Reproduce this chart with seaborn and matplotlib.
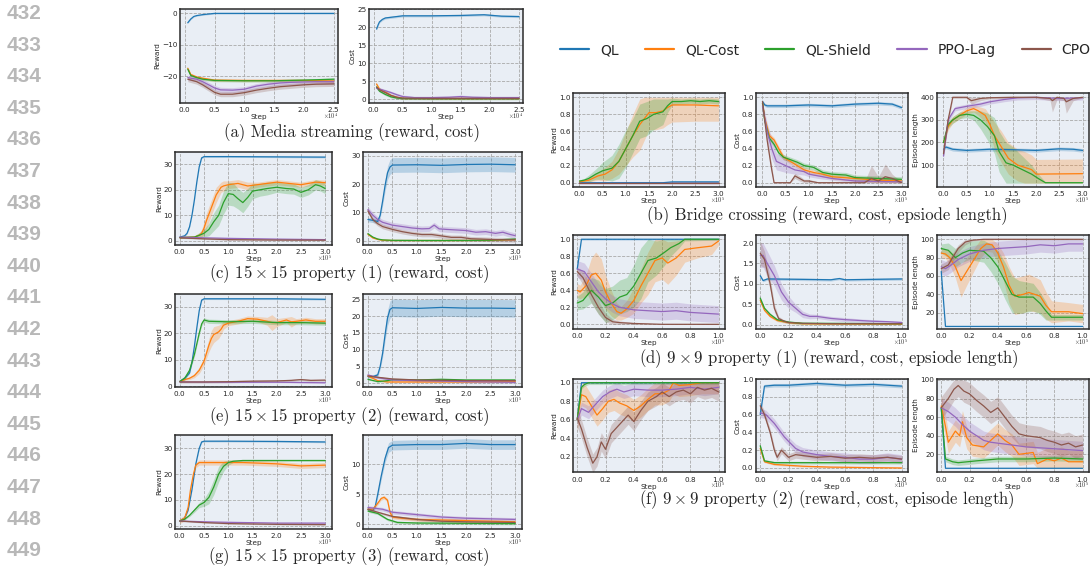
import matplotlib
matplotlib.use("Agg")
import matplotlib.pyplot as plt
from matplotlib.lines import Line2D
from matplotlib.ticker import MultipleLocator
import seaborn as sns
import numpy as np
import pandas as pd

ALGOS = ["QL", "QL-Cost", "QL-Shield", "PPO-Lag", "CPO"]
COLORS = ["#1f77b4", "#ff7f0e", "#2ca02c", "#9467bd", "#8c564b"]

# each series: (steps, mean, band half-width); steps in units of 1e4 for (a), 1e5 otherwise
a_reward = {
    "QL": ([0.05, 0.1, 0.15, 0.2, 0.3, 0.4, 0.5, 1.0, 1.5, 2.0, 2.5],
           [-3.0, -1.8, -1.0, -0.7, -0.4, -0.2, 0.0, 0.0, 0.0, 0.0, 0.0], 0.2),
    "QL-Cost": ([0.05, 0.1, 0.2, 0.3, 0.4, 0.5, 1.0, 1.5, 2.0, 2.5],
                [-17.5, -19.5, -20.3, -20.7, -21.0, -21.3, -21.4, -21.4, -21.4, -21.6], 0.4),
    "QL-Shield": ([0.05, 0.1, 0.2, 0.3, 0.4, 0.5, 1.0, 1.5, 2.0, 2.5],
                  [-17.8, -19.8, -20.5, -21.0, -21.2, -21.4, -21.5, -21.5, -21.3, -21.0], 0.4),
    "PPO-Lag": ([0.05, 0.2, 0.3, 0.4, 0.5, 0.6, 0.8, 1.0, 1.2, 1.4, 1.6, 1.8, 2.0, 2.2, 2.5],
                [-20.5, -21.0, -21.8, -22.8, -23.8, -24.4, -24.5, -24.2, -23.2, -22.6, -22.2, -22.0, -21.9, -21.8, -21.8], 0.8),
    "CPO": ([0.05, 0.2, 0.3, 0.4, 0.5, 0.6, 0.8, 1.0, 1.2, 1.4, 1.6, 1.8, 2.0, 2.2, 2.5],
            [-21.0, -21.8, -22.8, -24.0, -25.2, -25.8, -25.8, -25.3, -24.5, -23.9, -23.4, -23.1, -22.8, -22.6, -22.5], 0.8),
}
a_cost = {
    "QL": ([0.05, 0.08, 0.1, 0.15, 0.2, 0.3, 0.5, 1.0, 1.5, 1.9, 2.2, 2.5],
           [19.5, 20.8, 21.5, 22.2, 22.6, 22.8, 23.2, 23.2, 23.3, 23.5, 23.1, 23.0], 0.3),
    "QL-Cost": ([0.05, 0.1, 0.2, 0.3, 0.4, 0.5, 1.0, 2.5], [4.2, 2.8, 2.0, 1.0, 0.5, 0.2, 0.15, 0.15], 0.3),
    "QL-Shield": ([0.05, 0.1, 0.2, 0.3, 0.4, 0.5, 1.0, 2.5], [3.4, 2.2, 1.3, 0.6, 0.3, 0.15, 0.1, 0.1], 0.3),
    "PPO-Lag": ([0.05, 0.1, 0.2, 0.3, 0.4, 0.5, 0.7, 1.0, 1.3, 1.5, 1.7, 2.0, 2.5],
                [3.0, 2.8, 2.3, 1.8, 1.2, 0.7, 0.4, 0.4, 0.5, 0.7, 0.5, 0.4, 0.4], 0.4),
    "CPO": ([0.05, 0.1, 0.2, 0.3, 0.4, 0.5, 1.0, 2.5], [3.3, 2.6, 1.8, 1.0, 0.5, 0.25, 0.2, 0.2], 0.3),
}

c_reward = {
    "QL": ([0.0, 0.1, 0.15, 0.2, 0.25, 0.3, 0.35, 0.4, 0.45, 0.5, 1.0, 2.0, 3.0],
           [1.5, 2.0, 3.0, 5.5, 10.0, 16.0, 23.0, 29.0, 32.5, 33.0, 33.0, 32.9, 32.8], 0.3),
    "QL-Cost": ([0.0, 0.3, 0.4, 0.45, 0.5, 0.55, 0.6, 0.65, 0.7, 0.75, 0.8, 0.85, 0.9, 1.0, 1.2, 1.4, 1.6, 1.8, 2.0, 2.2, 2.5, 2.8, 3.0],
                [1.3, 1.5, 2.2, 3.0, 5.0, 8.0, 10.5, 13.0, 15.5, 18.0, 19.5, 21.0, 21.5, 22.0, 22.5, 21.5, 22.0, 22.5, 23.0, 22.6, 22.0, 23.0, 22.8],
                [0.3, 0.5, 1, 1.5, 2.5, 3, 3, 3, 3, 3, 2.5, 2, 2, 1.5, 1.5, 1.5, 1, 1, 1, 1, 1, 1, 1]),
    "QL-Shield": ([0.0, 0.3, 0.4, 0.5, 0.6, 0.65, 0.7, 0.8, 0.9, 1.0, 1.1, 1.2, 1.3, 1.4, 1.5, 1.65, 1.8, 2.0, 2.2, 2.35, 2.5, 2.65, 2.8, 2.9, 3.0],
                  [1.3, 1.5, 2.2, 3.0, 4.5, 6.0, 7.5, 10.0, 15.0, 18.5, 18.2, 16.5, 15.0, 17.0, 19.5, 20.0, 20.5, 21.0, 20.5, 20.3, 19.0, 20.0, 22.0, 21.5, 20.5],
                  [0.3, 0.5, 1, 1.5, 2.5, 3, 3.5, 4, 4.5, 4.5, 4.5, 4, 4, 3.5, 3, 2.5, 2.5, 2, 2, 2, 2, 2, 2, 2, 2]),
    "PPO-Lag": ([0.0, 0.5, 1.0, 2.0, 3.0], [1.5, 1.2, 1.0, 0.7, 0.5], 0.3),
    "CPO": ([0.0, 0.5, 1.0, 2.0, 3.0], [1.2, 0.8, 0.5, 0.35, 0.3], 0.2),
}
c_cost = {
    "QL": ([0.0, 0.1, 0.2, 0.25, 0.3, 0.35, 0.4, 0.45, 0.5, 1.0, 1.5, 2.0, 2.5, 3.0],
           [7.5, 7.2, 6.8, 9.0, 14.0, 19.5, 24.0, 26.0, 26.7, 26.8, 26.6, 26.9, 27.0, 26.8],
           [0.8, 0.8, 0.8, 1.0, 1.5, 2.0, 2.4, 2.6, 2.6, 2.6, 2.6, 2.6, 2.6, 2.6]),
    "QL-Cost": ([0.0, 0.1, 0.2, 0.3, 0.5, 1.0, 2.0, 2.5, 3.0], [2.3, 1.0, 0.5, 0.2, 0.1, 0.1, 0.1, 0.2, 0.4], 0.2),
    "QL-Shield": ([0.0, 0.1, 0.2, 0.3, 0.5, 1.0, 2.0, 2.5, 3.0], [2.5, 1.3, 0.6, 0.3, 0.15, 0.1, 0.1, 0.2, 0.6], 0.2),
    "PPO-Lag": ([0.0, 0.1, 0.2, 0.3, 0.4, 0.5, 0.7, 0.9, 1.1, 1.25, 1.35, 1.45, 1.6, 1.8, 2.0, 2.2, 2.4, 2.6, 2.75, 2.9, 3.0],
                [11.0, 9.0, 7.5, 6.5, 6.0, 5.5, 5.0, 4.5, 4.2, 4.3, 5.5, 4.2, 4.0, 3.8, 3.6, 3.0, 3.2, 2.6, 3.0, 2.2, 1.8], 1.0),
    "CPO": ([0.0, 0.1, 0.2, 0.3, 0.5, 0.7, 0.9, 1.1, 1.3, 1.5, 1.7, 1.9, 2.1, 2.3, 2.6, 3.0],
            [10.5, 7.5, 6.0, 5.0, 4.0, 3.2, 2.6, 2.2, 2.2, 1.7, 1.2, 1.2, 0.7, 0.6, 0.4, 0.3], 0.8),
}

e_reward = {
    "QL": ([0.0, 0.1, 0.2, 0.25, 0.3, 0.35, 0.4, 0.45, 0.5, 1.0, 2.0, 3.0],
           [1.8, 3.0, 5.0, 9.0, 15.0, 22.0, 28.5, 32.5, 33.0, 33.0, 33.0, 32.8], 0.3),
    "QL-Cost": ([0.0, 0.1, 0.2, 0.3, 0.4, 0.5, 0.55, 0.6, 0.65, 0.7, 0.8, 0.85, 0.9, 1.0, 1.2, 1.4, 1.6, 1.8, 1.9, 2.0, 2.2, 2.3, 2.4, 2.6, 2.8, 3.0],
                [1.8, 2.5, 3.0, 4.0, 6.0, 9.5, 12.5, 15.5, 18.0, 19.5, 20.5, 21.5, 23.0, 23.8, 24.5, 25.5, 25.3, 24.5, 24.0, 24.0, 25.0, 24.3, 24.5, 25.0, 24.5, 24.5],
                [0.3, 0.3, 0.5, 0.8, 1.2, 1.5, 2, 2.5, 3, 3, 2.5, 2, 1.5, 1, 1, 1, 1, 1.5, 3, 1.5, 1, 2, 1, 1, 1, 1]),
    "QL-Shield": ([0.0, 0.1, 0.2, 0.3, 0.4, 0.45, 0.5, 0.6, 1.0, 1.5, 2.0, 2.5, 3.0],
                  [1.8, 3.0, 6.0, 12.0, 20.0, 23.5, 25.0, 24.5, 24.3, 24.5, 24.0, 24.0, 23.8], 0.8),
    "PPO-Lag": ([0.0, 1.0, 2.0, 3.0], [1.6, 1.5, 1.5, 1.3], 0.2),
    "CPO": ([0.0, 0.5, 1.0, 1.5, 2.0, 2.3, 2.5, 2.7, 3.0], [1.6, 1.6, 1.7, 1.9, 2.0, 2.2, 2.5, 2.2, 2.3], 0.4),
}
e_cost = {
    "QL": ([0.0, 0.1, 0.2, 0.25, 0.3, 0.35, 0.4, 0.45, 0.5, 1.0, 1.5, 2.0, 2.5, 3.0],
           [2.0, 2.0, 2.5, 5.0, 9.0, 14.5, 19.5, 22.0, 22.5, 22.3, 22.6, 22.4, 22.4, 22.3],
           [0.5, 0.5, 0.6, 0.8, 1.2, 1.8, 2.3, 2.6, 2.6, 2.6, 2.6, 2.6, 2.6, 2.6]),
    "QL-Cost": ([0.0, 0.1, 0.2, 0.4, 1.0, 2.0, 3.0], [2.2, 1.5, 0.8, 0.4, 0.4, 0.4, 0.5], 0.2),
    "QL-Shield": ([0.0, 0.2, 0.4, 0.5, 1.0, 1.5, 2.0, 3.0], [1.2, 0.5, 0.8, 1.1, 1.0, 1.2, 1.0, 1.0], 0.2),
    "PPO-Lag": ([0.0, 0.2, 0.5, 1.0, 2.0, 3.0], [2.5, 1.7, 1.0, 0.8, 0.5, 0.3], 0.3),
    "CPO": ([0.0, 0.2, 0.5, 1.0, 2.0, 3.0], [2.2, 1.8, 1.3, 1.0, 0.8, 0.8], 0.3),
}

g_reward = {
    "QL": ([0.0, 0.1, 0.17, 0.25, 0.33, 0.4, 0.45, 0.5, 1.0, 2.0, 3.0],
           [1.8, 3.0, 6.0, 14.0, 24.0, 30.0, 32.5, 32.8, 32.8, 32.7, 32.5], 0.3),
    "QL-Cost": ([0.0, 0.1, 0.17, 0.22, 0.28, 0.33, 0.4, 0.7, 1.0, 1.3, 1.6, 2.0, 2.5, 3.0],
                [1.8, 3.0, 7.0, 14.0, 20.0, 23.5, 24.5, 24.5, 24.5, 24.5, 24.3, 24.0, 23.2, 23.5], 1.0),
    "QL-Shield": ([0.0, 0.1, 0.2, 0.3, 0.4, 0.5, 0.6, 0.7, 0.8, 0.9, 1.0, 1.1, 1.3, 2.0, 3.0],
                  [1.8, 2.5, 4.0, 6.0, 8.0, 9.0, 11.0, 15.0, 20.0, 23.0, 24.5, 25.0, 25.3, 25.3, 25.3],
                  [0.3, 0.3, 0.5, 0.8, 1, 1.5, 2.5, 3, 3, 2, 1, 0.5, 0.3, 0.3, 0.3]),
    "PPO-Lag": ([0.0, 0.5, 1.0, 2.0, 3.0], [1.8, 1.5, 1.3, 1.0, 1.0], 0.2),
    "CPO": ([0.0, 0.5, 1.0, 2.0, 3.0], [1.8, 1.2, 0.8, 0.5, 0.4], 0.2),
}
g_cost = {
    "QL": ([0.0, 0.1, 0.15, 0.2, 0.27, 0.35, 0.42, 0.5, 1.0, 1.5, 2.0, 2.5, 3.0],
           [2.5, 2.3, 3.0, 5.0, 8.0, 11.0, 12.8, 13.2, 13.3, 13.3, 13.5, 13.3, 13.3],
           [0.3, 0.3, 0.4, 0.5, 0.6, 0.7, 0.8, 0.8, 0.8, 0.8, 0.8, 0.8, 0.8]),
    "QL-Cost": ([0.0, 0.1, 0.2, 0.27, 0.33, 0.4, 0.45, 0.5, 0.7, 1.0, 1.5, 2.0, 2.5, 3.0],
                [2.5, 2.5, 3.5, 4.3, 4.5, 4.0, 2.0, 1.2, 1.0, 0.8, 0.7, 0.6, 0.5, 0.4], 0.3),
    "QL-Shield": ([0.0, 0.2, 0.4, 0.6, 1.0, 3.0], [2.2, 1.8, 0.8, 0.3, 0.2, 0.1], 0.2),
    "PPO-Lag": ([0.0, 0.3, 0.5, 1.0, 1.5, 2.0, 2.5, 3.0], [2.8, 2.5, 2.0, 1.6, 1.2, 1.0, 0.9, 0.8], 0.3),
    "CPO": ([0.0, 0.2, 0.5, 1.0, 1.5, 2.0, 3.0], [2.5, 2.0, 1.3, 0.8, 0.5, 0.4, 0.3], 0.2),
}

b_reward = {
    "QL": ([0.0, 1.0, 1.8, 2.0, 2.5, 3.0], [0.0, 0.0, 0.0, 0.01, 0.01, 0.01], 0.005),
    "QL-Cost": ([0.0, 0.2, 0.4, 0.55, 0.7, 0.85, 1.0, 1.15, 1.3, 1.4, 1.5, 1.65, 1.8, 1.9, 2.0, 2.5, 3.0],
                [0.01, 0.03, 0.08, 0.1, 0.15, 0.25, 0.4, 0.55, 0.68, 0.75, 0.82, 0.82, 0.84, 0.88, 0.91, 0.91, 0.9],
                [0.01, 0.02, 0.05, 0.08, 0.1, 0.15, 0.2, 0.25, 0.3, 0.25, 0.2, 0.2, 0.2, 0.2, 0.2, 0.19, 0.18]),
    "QL-Shield": ([0.0, 0.1, 0.2, 0.35, 0.5, 0.7, 0.85, 1.0, 1.15, 1.3, 1.45, 1.6, 1.8, 1.9, 2.0, 2.2, 2.4, 2.6, 2.8, 3.0],
                  [0.02, 0.03, 0.05, 0.1, 0.14, 0.17, 0.25, 0.4, 0.55, 0.72, 0.75, 0.8, 0.83, 0.9, 0.95, 0.95, 0.96, 0.95, 0.96, 0.95],
                  [0.01, 0.02, 0.04, 0.06, 0.1, 0.15, 0.2, 0.22, 0.2, 0.2, 0.2, 0.18, 0.15, 0.08, 0.04, 0.03, 0.03, 0.03, 0.03, 0.03]),
    "PPO-Lag": ([0.0, 3.0], [0.0, 0.0], 0.003),
    "CPO": ([0.0, 3.0], [0.0, 0.0], 0.003),
}
b_cost = {
    "QL": ([0.0, 0.05, 0.1, 0.5, 1.0, 1.5, 2.0, 2.5, 2.8, 3.0],
           [0.95, 0.91, 0.9, 0.9, 0.91, 0.9, 0.92, 0.93, 0.92, 0.88], 0.02),
    "QL-Cost": ([0.0, 0.05, 0.15, 0.25, 0.35, 0.45, 0.6, 0.75, 0.9, 1.1, 1.3, 1.5, 2.0, 2.5, 3.0],
                [0.93, 0.75, 0.55, 0.5, 0.4, 0.3, 0.25, 0.2, 0.15, 0.12, 0.1, 0.07, 0.05, 0.03, 0.02], 0.03),
    "QL-Shield": ([0.0, 0.05, 0.15, 0.25, 0.35, 0.45, 0.6, 0.75, 0.9, 1.1, 1.3, 1.5, 1.8, 2.0, 2.5, 3.0],
                  [0.93, 0.72, 0.52, 0.45, 0.35, 0.3, 0.27, 0.24, 0.2, 0.18, 0.12, 0.1, 0.09, 0.06, 0.05, 0.04], 0.03),
    "PPO-Lag": ([0.0, 0.1, 0.2, 0.3, 0.5, 0.7, 0.9, 1.0, 1.2, 1.5, 2.0, 3.0],
                [0.9, 0.6, 0.4, 0.25, 0.2, 0.15, 0.13, 0.1, 0.08, 0.05, 0.02, 0.01],
                [0.05, 0.1, 0.12, 0.1, 0.08, 0.05, 0.04, 0.03, 0.03, 0.02, 0.02, 0.01]),
    "CPO": ([0.0, 0.1, 0.2, 0.25, 0.6, 0.7, 0.8, 0.9, 1.0, 1.2, 2.2, 2.35, 2.5, 2.65, 2.8, 3.0],
            [0.95, 0.5, 0.15, 0.0, 0.0, 0.08, 0.05, 0.02, 0.02, 0.0, 0.0, 0.05, 0.02, 0.07, 0.05, 0.0],
            [0.02, 0.05, 0.05, 0.01, 0.01, 0.03, 0.03, 0.02, 0.02, 0.01, 0.01, 0.15, 0.05, 0.15, 0.05, 0.01]),
}
b_length = {
    "QL": ([0.0, 0.05, 0.2, 0.5, 1.0, 1.5, 2.0, 2.5, 2.8, 3.0],
           [170, 180, 170, 165, 170, 168, 165, 172, 170, 165], 8),
    "QL-Cost": ([0.0, 0.1, 0.2, 0.35, 0.5, 0.65, 0.75, 0.9, 1.0, 1.1, 1.25, 1.4, 1.6, 1.75, 1.9, 2.0, 3.0],
                [200, 270, 300, 320, 340, 350, 340, 320, 280, 230, 180, 130, 100, 90, 80, 60, 62],
                [10, 15, 15, 15, 15, 15, 20, 30, 40, 60, 70, 70, 70, 70, 65, 65, 65]),
    "QL-Shield": ([0.0, 0.1, 0.2, 0.35, 0.5, 0.65, 0.8, 0.95, 1.1, 1.2, 1.35, 1.5, 1.7, 1.9, 2.05, 2.2, 3.0],
                  [200, 280, 300, 320, 325, 320, 300, 270, 230, 160, 110, 100, 80, 60, 40, 22, 22],
                  [10, 15, 15, 15, 15, 20, 40, 60, 80, 90, 90, 80, 60, 40, 20, 3, 3]),
    "PPO-Lag": ([0.0, 0.1, 0.25, 0.5, 0.8, 1.0, 1.3, 1.6, 2.0, 2.5, 3.0],
                [140, 300, 350, 360, 370, 380, 390, 398, 400, 395, 398], 10),
    "CPO": ([0.0, 0.1, 0.2, 0.5, 0.6, 0.8, 1.0, 1.5, 2.0, 2.3, 2.35, 2.45, 2.6, 2.65, 2.8, 3.0],
            [150, 300, 400, 400, 385, 395, 398, 400, 400, 395, 385, 400, 395, 380, 395, 400],
            [10, 20, 5, 5, 15, 10, 5, 3, 3, 10, 50, 10, 10, 50, 10, 3]),
}

d_reward = {
    "QL": ([0.0, 0.03, 1.0], [0.65, 1.0, 1.0], 0.01),
    "QL-Cost": ([0.0, 0.02, 0.06, 0.1, 0.13, 0.17, 0.2, 0.24, 0.28, 0.31, 0.35, 0.4, 0.45, 0.5, 0.55, 0.6, 0.64, 0.7, 0.76, 0.85, 0.95, 1.0],
                [0.4, 0.38, 0.45, 0.58, 0.6, 0.52, 0.38, 0.25, 0.15, 0.13, 0.18, 0.28, 0.45, 0.6, 0.75, 0.78, 0.72, 0.78, 0.88, 0.9, 0.92, 0.98],
                [0.08, 0.08, 0.12, 0.2, 0.25, 0.25, 0.2, 0.15, 0.1, 0.08, 0.1, 0.15, 0.2, 0.25, 0.25, 0.25, 0.25, 0.2, 0.15, 0.12, 0.1, 0.05]),
    "QL-Shield": ([0.0, 0.04, 0.1, 0.15, 0.2, 0.25, 0.3, 0.35, 0.4, 0.45, 0.5, 0.56, 0.62, 0.66, 0.72, 0.76, 1.0],
                  [0.25, 0.28, 0.4, 0.32, 0.22, 0.25, 0.32, 0.35, 0.45, 0.6, 0.75, 0.78, 0.85, 0.9, 0.95, 1.0, 1.0],
                  [0.08, 0.1, 0.15, 0.2, 0.2, 0.2, 0.2, 0.2, 0.25, 0.3, 0.25, 0.2, 0.15, 0.1, 0.05, 0.02, 0.01]),
    "PPO-Lag": ([0.0, 0.05, 0.1, 0.15, 0.2, 0.25, 0.3, 0.4, 0.5, 0.6, 0.7, 0.8, 0.9, 1.0],
                [0.65, 0.62, 0.5, 0.38, 0.3, 0.24, 0.2, 0.17, 0.16, 0.15, 0.16, 0.14, 0.13, 0.12], 0.1),
    "CPO": ([0.0, 0.04, 0.1, 0.15, 0.2, 0.25, 0.3, 0.4, 0.6, 1.0],
            [0.62, 0.55, 0.35, 0.2, 0.08, 0.03, 0.02, 0.01, 0.0, 0.0],
            [0.05, 0.08, 0.1, 0.08, 0.05, 0.03, 0.02, 0.01, 0.005, 0.005]),
}
d_cost = {
    "QL": ([0.0, 0.02, 0.05, 0.3, 0.5, 0.56, 0.6, 0.8, 1.0], [1.2, 1.08, 1.12, 1.11, 1.1, 1.13, 1.1, 1.11, 1.12], 0.03),
    "QL-Cost": ([0.0, 0.03, 0.07, 0.12, 0.2, 0.3, 1.0], [0.6, 0.35, 0.2, 0.1, 0.05, 0.02, 0.01], 0.03),
    "QL-Shield": ([0.0, 0.03, 0.07, 0.12, 0.2, 0.3, 1.0], [0.65, 0.4, 0.25, 0.12, 0.06, 0.03, 0.02], 0.03),
    "PPO-Lag": ([0.0, 0.02, 0.05, 0.1, 0.15, 0.2, 0.25, 0.3, 0.35, 0.4, 0.5, 0.6, 0.7, 0.8, 0.9, 1.0],
                [1.7, 1.7, 1.5, 1.2, 0.8, 0.55, 0.4, 0.25, 0.2, 0.2, 0.15, 0.12, 0.1, 0.08, 0.07, 0.05],
                [0.3, 0.3, 0.3, 0.25, 0.2, 0.15, 0.1, 0.08, 0.06, 0.05, 0.05, 0.05, 0.04, 0.04, 0.03, 0.03]),
    "CPO": ([0.0, 0.03, 0.07, 0.1, 0.13, 0.17, 0.2, 0.3, 0.5, 1.0],
            [1.75, 1.6, 1.0, 0.4, 0.15, 0.08, 0.05, 0.03, 0.02, 0.02],
            [0.3, 0.2, 0.15, 0.1, 0.05, 0.03, 0.02, 0.01, 0.01, 0.01]),
}
d_length = {
    "QL": ([0.0, 0.03, 1.0], [65, 5, 5], 0.5),
    "QL-Cost": ([0.0, 0.03, 0.06, 0.1, 0.14, 0.18, 0.24, 0.28, 0.32, 0.36, 0.4, 0.44, 0.48, 0.52, 0.58, 0.62, 0.7, 0.74, 0.78, 0.9, 1.0],
                [85, 84, 80, 70, 55, 65, 80, 90, 95, 94, 85, 70, 50, 38, 40, 42, 38, 28, 21, 21, 19],
                [5, 5, 8, 12, 18, 15, 12, 10, 8, 8, 10, 15, 20, 20, 20, 20, 18, 15, 12, 10, 10]),
    "QL-Shield": ([0.0, 0.05, 0.1, 0.15, 0.2, 0.3, 0.35, 0.4, 0.45, 0.5, 0.55, 0.65, 0.7, 0.74, 0.78, 1.0],
                  [90, 88, 80, 85, 88, 87, 80, 70, 55, 40, 37, 37, 30, 22, 15, 15],
                  [5, 8, 10, 10, 10, 12, 15, 18, 20, 20, 18, 15, 12, 10, 3, 3]),
    "PPO-Lag": ([0.0, 0.03, 0.07, 0.12, 0.2, 0.3, 0.4, 0.5, 0.6, 0.7, 0.8, 0.9, 1.0],
                [70, 68, 72, 78, 84, 88, 90, 91, 92, 94, 93, 95, 95], 8),
    "CPO": ([0.0, 0.05, 0.08, 0.12, 0.17, 0.22, 0.3, 1.0], [68, 72, 80, 90, 97, 99, 100, 100],
            [5, 5, 5, 4, 3, 1, 0.5, 0.5]),
}

f_reward = {
    "QL": ([0.0, 0.03, 1.0], [0.6, 1.0, 1.0], 0.005),
    "QL-Cost": ([0.0, 0.03, 0.06, 0.1, 0.14, 0.18, 0.22, 0.26, 0.3, 0.35, 0.4, 0.45, 0.5, 0.55, 0.6, 0.65, 0.68, 0.72, 0.8, 0.88, 1.0],
                [0.6, 0.87, 0.85, 0.75, 0.65, 0.72, 0.8, 0.82, 0.78, 0.75, 0.7, 0.75, 0.82, 0.88, 0.88, 0.92, 1.0, 0.97, 0.98, 1.0, 1.0], 0.12),
    "QL-Shield": ([0.0, 0.03, 0.05, 0.08, 1.0], [0.6, 0.95, 0.98, 1.0, 1.0], 0.02),
    "PPO-Lag": ([0.0, 0.03, 0.08, 0.12, 0.18, 0.23, 0.28, 0.33, 0.4, 0.5, 0.6, 0.7, 0.8, 0.9, 1.0],
                [0.6, 0.72, 0.68, 0.75, 0.85, 0.9, 0.93, 0.9, 0.93, 0.92, 0.92, 0.93, 0.95, 0.93, 0.95], 0.07),
    "CPO": ([0.0, 0.03, 0.07, 0.11, 0.14, 0.17, 0.2, 0.24, 0.3, 0.36, 0.4, 0.45, 0.5, 0.56, 0.6, 0.65, 0.7, 0.75, 0.8, 0.85, 0.9, 0.95, 1.0],
            [0.62, 0.5, 0.3, 0.13, 0.2, 0.36, 0.28, 0.45, 0.55, 0.65, 0.58, 0.7, 0.8, 0.85, 0.9, 0.85, 0.9, 0.92, 0.88, 0.95, 0.92, 0.94, 0.9], 0.1),
}
f_cost = {
    "QL": ([0.0, 0.03, 0.1, 0.2, 0.4, 0.6, 0.8, 1.0], [0.6, 0.92, 0.93, 0.93, 0.95, 0.93, 0.94, 0.92], 0.02),
    "QL-Cost": ([0.0, 0.03, 0.1, 0.3, 0.5, 1.0], [0.22, 0.07, 0.04, 0.02, 0.01, 0.0], 0.01),
    "QL-Shield": ([0.0, 0.03, 0.1, 1.0], [0.25, 0.08, 0.06, 0.06], 0.015),
    "PPO-Lag": ([0.0, 0.04, 0.1, 0.17, 0.2, 0.25, 0.3, 0.4, 0.5, 0.6, 0.7, 0.8, 0.9, 1.0],
                [0.62, 0.6, 0.5, 0.35, 0.3, 0.22, 0.18, 0.15, 0.13, 0.12, 0.1, 0.1, 0.12, 0.1], 0.05),
    "CPO": ([0.0, 0.03, 0.07, 0.1, 0.12, 0.15, 0.2, 0.25, 0.3, 0.4, 0.5, 0.6, 0.7, 0.8, 0.9, 1.0],
            [0.7, 0.6, 0.4, 0.2, 0.12, 0.2, 0.12, 0.15, 0.14, 0.12, 0.13, 0.11, 0.12, 0.11, 0.12, 0.1], 0.04),
}
f_length = {
    "QL": ([0.0, 0.03, 1.0], [70, 5, 5], 0.5),
    "QL-Cost": ([0.0, 0.03, 0.05, 0.1, 0.13, 0.15, 0.18, 0.22, 0.3, 0.35, 0.4, 0.45, 0.5, 0.55, 0.65, 0.68, 0.75, 0.8, 0.85, 0.9, 1.0],
                [72, 50, 33, 45, 40, 55, 38, 30, 28, 35, 42, 35, 30, 20, 22, 10, 15, 13, 16, 12, 12], 12),
    "QL-Shield": ([0.0, 0.03, 0.08, 0.12, 0.25, 0.4, 0.6, 0.8, 1.0], [70, 15, 12, 11, 13, 15, 15, 16, 15], 3),
    "PPO-Lag": ([0.0, 0.05, 0.1, 0.15, 0.2, 0.25, 0.3, 0.35, 0.4, 0.5, 0.6, 0.7, 0.8, 0.9, 1.0],
                [70, 66, 60, 52, 45, 40, 35, 33, 32, 30, 28, 27, 26, 25, 24], 10),
    "CPO": ([0.0, 0.05, 0.09, 0.12, 0.16, 0.2, 0.25, 0.3, 0.35, 0.4, 0.45, 0.5, 0.55, 0.6, 0.7, 0.75, 0.8, 0.85, 0.9, 0.95, 1.0],
            [70, 80, 90, 94, 88, 85, 78, 72, 65, 70, 60, 50, 42, 40, 38, 35, 33, 30, 32, 28, 30], 12),
}

CAPTIONS = [
    "(a) Media streaming (reward, cost)",
    "(b) Bridge crossing (reward, cost, epsiode length)",
    r"(c) $15 \times 15$ property (1) (reward, cost)",
    r"(d) $9 \times 9$ property (1) (reward, cost, epsiode length)",
    r"(e) $15 \times 15$ property (2) (reward, cost)",
    r"(f) $9 \times 9$ property (2) (reward, cost, episode length)",
    r"(g) $15 \times 15$ property (3) (reward, cost)",
]

sns.set_style("darkgrid", {
    "axes.facecolor": "#e9eef5",
    "axes.edgecolor": "#2b2b2b",
    "grid.color": "#a9a9a9",
    "grid.linestyle": "--",
})
plt.rcParams["axes.linewidth"] = 1.1
plt.rcParams["grid.linewidth"] = 0.6
plt.rcParams["mathtext.fontset"] = "cm"

W, H = 1092, 569
fig = plt.figure(figsize=(W / 100, H / 100), dpi=100)


def panel(box, series, scale, xlim, xstep, ylim, ystep, ylabel, clip=(-np.inf, np.inf)):
    l, t, r, b = box
    ax = fig.add_axes([l / W, 1 - b / H, (r - l) / W, (b - t) / H])
    rows = []
    for name, color in zip(ALGOS, COLORS):
        xs, ys, band = series[name]
        x = np.asarray(xs) * scale
        y = np.asarray(ys, dtype=float)
        hw = np.broadcast_to(np.asarray(band, dtype=float), y.shape)
        ax.fill_between(x, np.clip(y - hw, *clip), np.clip(y + hw, *clip),
                        color=color, alpha=0.25, lw=0)
        rows += [(name, xv, yv) for xv, yv in zip(x, y)]
    df = pd.DataFrame(rows, columns=["algo", "step", "value"])
    sns.lineplot(data=df, x="step", y="value", hue="algo", hue_order=ALGOS,
                 palette=COLORS, estimator=None, legend=False, lw=0.9, ax=ax)
    ax.set_xlim(xlim[0] * scale, xlim[1] * scale)
    ax.set_ylim(*ylim)
    ax.xaxis.set_major_locator(MultipleLocator(xstep * scale))
    ax.yaxis.set_major_locator(MultipleLocator(ystep))
    # tick labels in units of the scale, with the exponent written at the lower right
    ax.ticklabel_format(axis="x", style="sci", scilimits=(0, 0), useMathText=True)
    ax.xaxis.get_offset_text().set_visible(False)
    ax.text(1.0, -0.14, r"$\times 10^{%d}$" % round(np.log10(scale)), transform=ax.transAxes,
            ha="right", va="center", fontsize=4.4)
    ax.tick_params(labelsize=5.2, pad=0.8, length=1, width=0.5)
    ax.set_xlabel("Step", fontsize=5.2, labelpad=0)
    ax.set_ylabel(ylabel, fontsize=5.2, labelpad=1)
    return ax


X3 = (-0.1, 3.14)
XB = (-0.14, 3.14)
X1 = (-0.03, 1.045)
R = [573, 725]
C = [756, 908]
E = [937, 1089]

panel((180, 9, 338, 103), a_reward, 1e4, (-0.08, 2.57), 0.5, (-28.6, 1.4), 10, "Reward")
panel((369, 9, 523, 103), a_cost, 1e4, (-0.08, 2.57), 0.5, (-1.1, 25.1), 5, "Cost")
panel((175, 152, 332, 245), c_reward, 1e5, X3, 0.5, (-1.6, 34.8), 10, "Reward")
panel((363, 152, 522, 245), c_cost, 1e5, X3, 0.5, (-1.5, 31.3), 10, "Cost")
panel((175, 294, 332, 387), e_reward, 1e5, X3, 0.5, (-0.3, 34.8), 10, "Reward")
panel((363, 294, 522, 387), e_cost, 1e5, X3, 0.5, (-1.1, 26.6), 5, "Cost")
panel((175, 435, 332, 529), g_reward, 1e5, X3, 0.5, (-1.3, 35.2), 10, "Reward")
panel((363, 435, 522, 529), g_cost, 1e5, X3, 0.5, (-0.8, 14.9), 5, "Cost")

panel((R[0], 93, R[1], 187), b_reward, 1e5, XB, 0.5, (-0.05, 1.05), 0.2, "Reward", (0, 1))
panel((C[0], 93, C[1], 187), b_cost, 1e5, XB, 0.5, (-0.05, 1.05), 0.2, "Cost", (0, 1))
panel((E[0], 93, E[1], 187), b_length, 1e5, XB, 0.5, (3, 419), 100, "Episode length", (20, 400))
panel((R[0], 235, R[1], 329), d_reward, 1e5, X1, 0.2, (-0.055, 1.05), 0.2, "Reward", (0, 1))
panel((C[0], 235, C[1], 329), d_cost, 1e5, X1, 0.2, (-0.11, 2.2), 0.5, "Cost", (0, 3))
panel((E[0], 235, E[1], 329), d_length, 1e5, X1, 0.2, (2.2, 104.7), 20, "Episode length", (5, 100))
panel((R[0], 379, R[1], 472), f_reward, 1e5, X1, 0.2, (0.035, 1.04), 0.2, "Reward", (0, 1))
panel((C[0], 379, C[1], 472), f_cost, 1e5, X1, 0.2, (-0.045, 1.0), 0.2, "Cost", (0, 1))
panel((E[0], 379, E[1], 472), f_length, 1e5, X1, 0.2, (1, 101), 20, "Episode length", (5, 100))

# sub-captions
cap_pos = [(352, 133), (827, 216), (349, 274), (829, 359), (349, 417), (827, 500), (349, 557)]
for text, (cx, cy) in zip(CAPTIONS, cap_pos):
    fig.text(cx / W, 1 - cy / H, text, ha="center", va="center", fontsize=12, family="cmr10")

# shared legend
handles = [Line2D([], [], color=c, lw=1.6) for c in COLORS]
fig.legend(handles, ALGOS, ncol=5, loc="center left", bbox_to_anchor=(560 / W, 1 - 50 / H),
           frameon=False, fontsize=10, handlelength=2.1, handletextpad=0.78,
           columnspacing=1.89, borderpad=0, borderaxespad=0)

# line numbers in the margin
for i in range(18):
    fig.text(7 / W, 1 - (13.5 + 31.6 * i) / H, str(432 + i), ha="left", va="center",
             fontsize=15, fontweight="bold", color="#b8b8b8", family="Liberation Sans")

fig.savefig("out.png", dpi=100)
